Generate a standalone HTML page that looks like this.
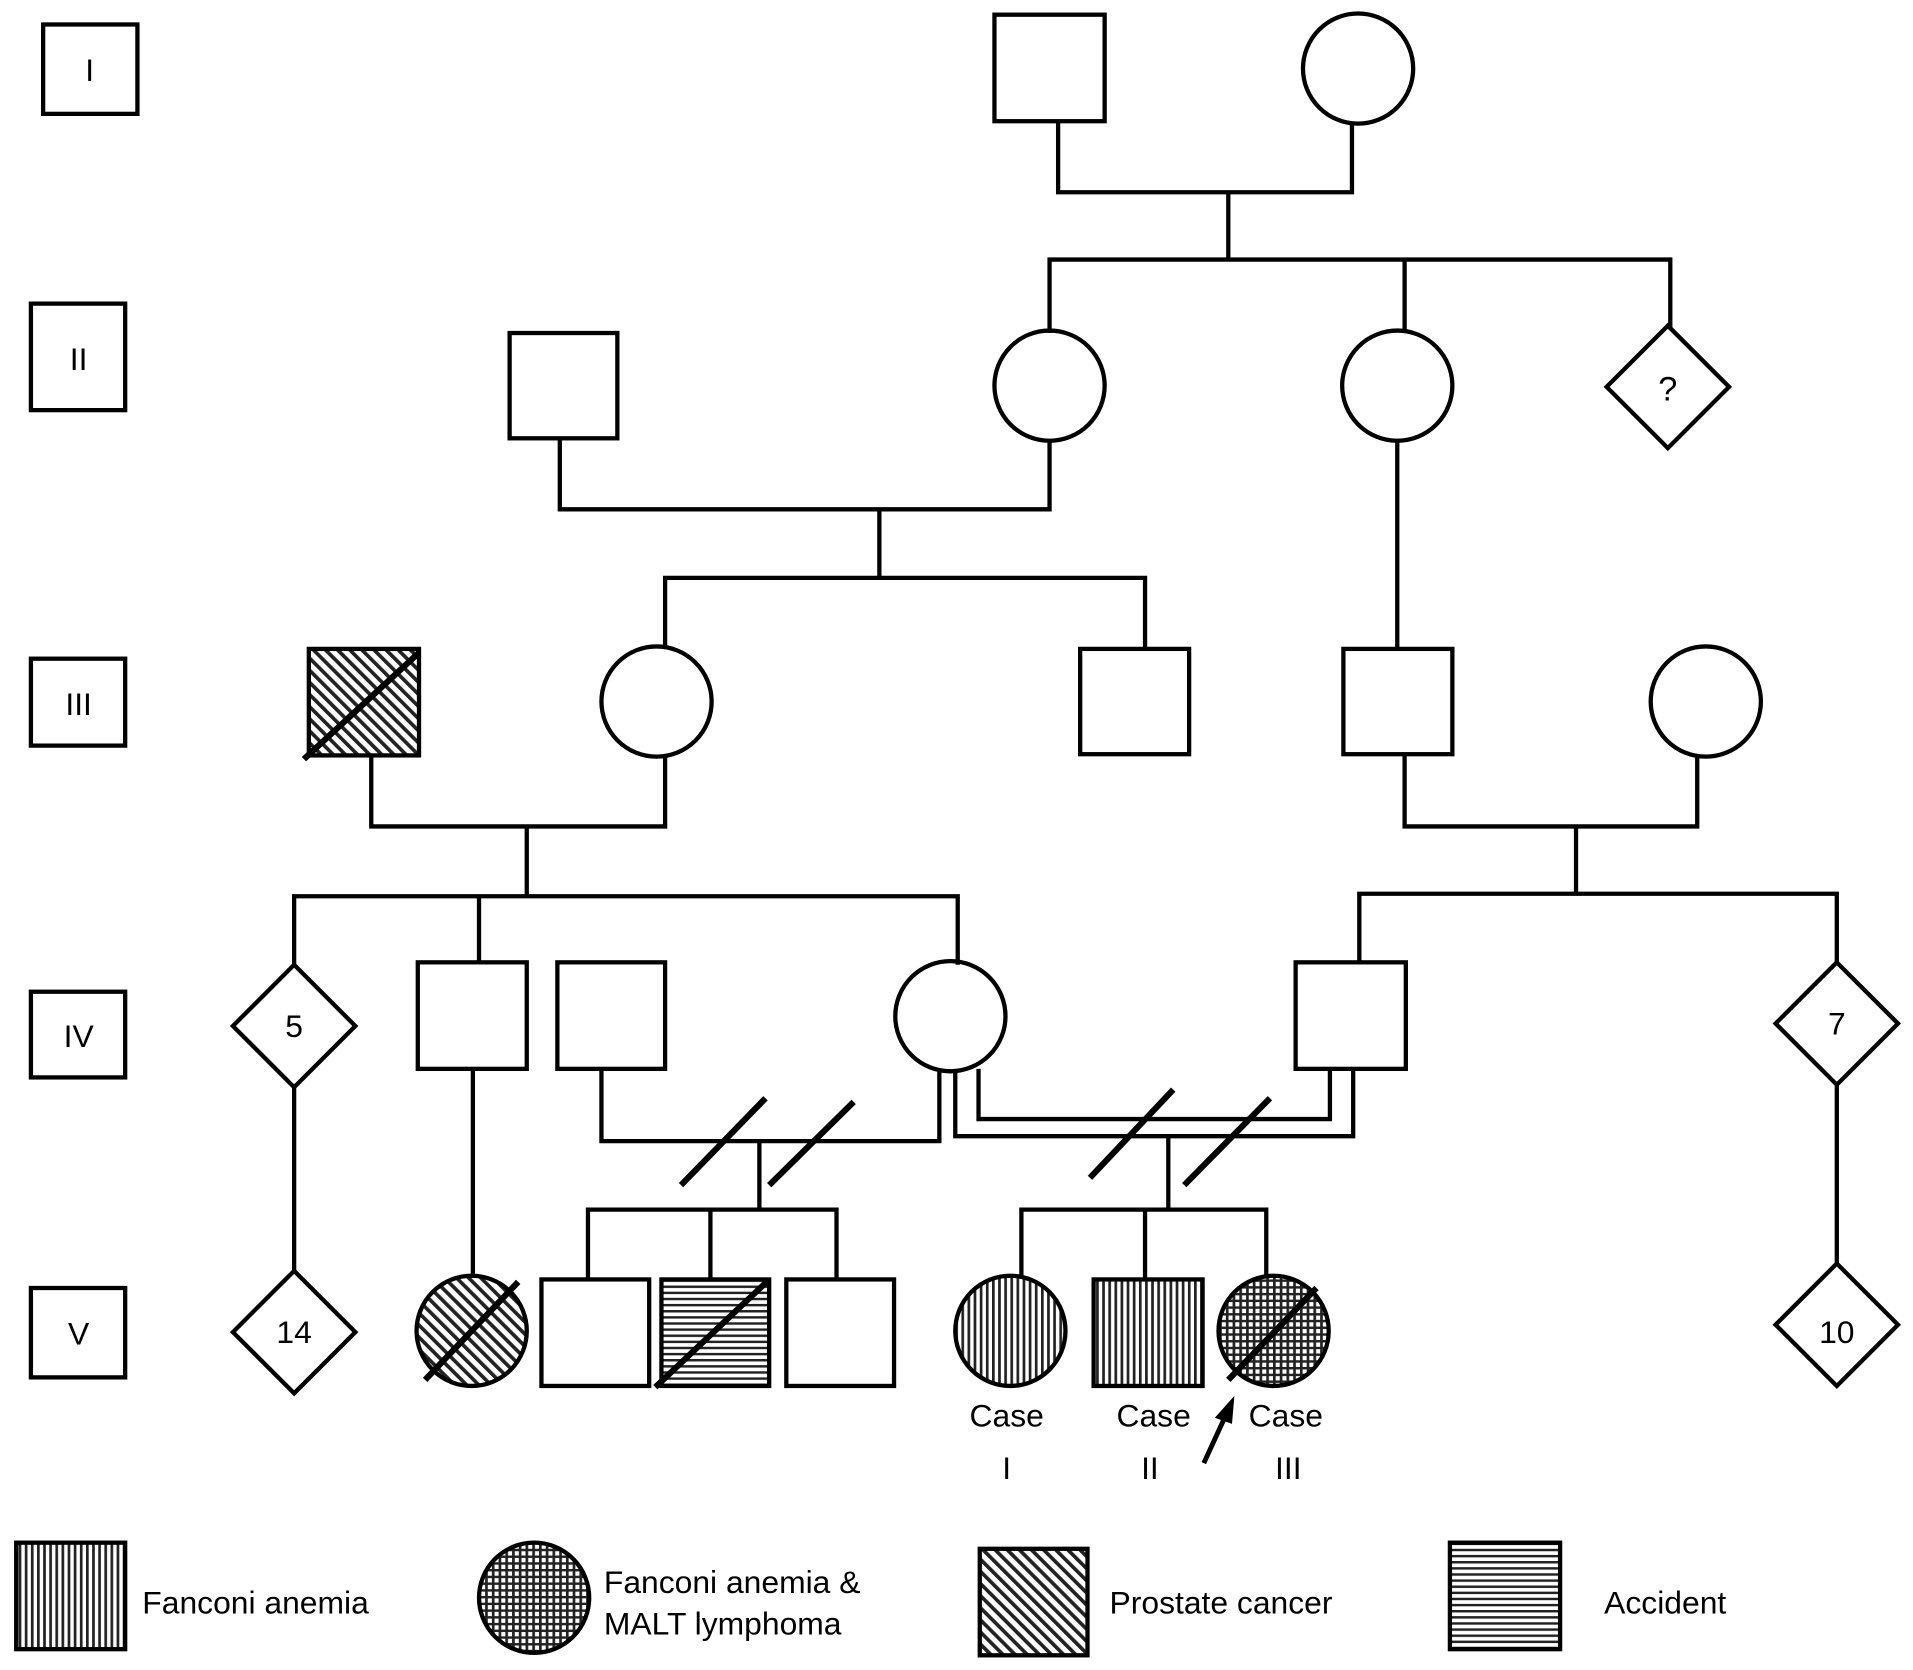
<!DOCTYPE html>
<html><head><meta charset="utf-8"><style>html,body{margin:0;padding:0;background:#fff}svg{display:block}</style></head>
<body>
<svg width="1913" height="1670" viewBox="0 0 1562 1364" xmlns="http://www.w3.org/2000/svg" font-family="Liberation Sans, sans-serif">
<defs>
<pattern id="v" width="5" height="5" patternUnits="userSpaceOnUse"><rect width="5" height="5" fill="#fff"/><rect width="2.2" height="5" fill="#222"/></pattern>
<pattern id="h" width="5" height="5" patternUnits="userSpaceOnUse"><rect width="5" height="5" fill="#fff"/><rect width="5" height="2" fill="#222"/></pattern>
<pattern id="g" width="5.5" height="5.5" patternUnits="userSpaceOnUse"><rect width="5.5" height="5.5" fill="#fff"/><rect width="2.2" height="5.5" fill="#222"/><rect width="5.5" height="2" fill="#222"/></pattern>
<pattern id="d" width="7" height="7" patternUnits="userSpaceOnUse" patternTransform="rotate(-45)"><rect width="7" height="7" fill="#fff"/><rect width="3" height="7" fill="#222"/></pattern>
</defs>
<g fill="none" stroke="#000" stroke-width="3.5">
<rect x="35" y="20" width="77" height="73"/>
<rect x="25" y="248" width="77" height="87"/>
<rect x="25" y="538" width="77" height="71"/>
<rect x="25" y="810" width="77" height="70"/>
<rect x="25" y="1052" width="77" height="73"/>
<rect x="812" y="12" width="90" height="87"/>
<circle cx="1109" cy="56" r="45"/>
<path d="M864 99V157H1104V101M1003 157V212M857 272V212H1364V268M1147 212V272"/>
<rect x="416" y="272" width="88" height="86"/>
<circle cx="857" cy="315" r="45"/>
<circle cx="1141" cy="315" r="45"/>
<path d="M1362 266L1412 316L1362 366L1312 316Z"/>
<path d="M457 358V416H857V360M718 416V472M543 530V472H935V530M1141 360V530"/>
<rect x="252" y="530" width="90" height="87" fill="url(#d)"/>
<circle cx="536" cy="573" r="45"/>
<rect x="882" y="530" width="89" height="86"/>
<rect x="1097" y="530" width="89" height="86"/>
<circle cx="1393" cy="573" r="45"/>
<path d="M303 617V675H543V618M430 675V732M240 790V732H782V788M391 732V786"/>
<path d="M1147 616V675H1386V618M1287 675V730M1110 786V730H1500V788"/>
<path d="M240 788L290 838L240 888L190 838Z"/>
<rect x="341" y="786" width="89" height="87"/>
<rect x="455" y="786" width="88" height="87"/>
<circle cx="776" cy="830" r="45"/>
<rect x="1058" y="786" width="90" height="87"/>
<path d="M1500 786L1550 836L1500 886L1450 836Z"/>
<path d="M240 888V1038M386 873V1042M1500 886V1032"/>
<path d="M491 873V932H767V873"/>
<path d="M780 873V928H1105V873M799 873V914H1086V873"/>
<path d="M620 932V988M480 1045V988H683V1045M580 988V1045M954 928V988M834 1045V988H1034V1045M935 988V1045"/>
</g>
<g stroke="#000" stroke-width="5">
<line x1="556" y1="968" x2="625" y2="897"/><line x1="628" y1="968" x2="697" y2="900"/>
<line x1="890" y1="962" x2="958" y2="890"/><line x1="967" y1="968" x2="1037" y2="897"/>
<line x1="248" y1="620" x2="342" y2="533"/>
</g>
<g stroke="#000" stroke-width="3.5">
<path d="M240 1038L290 1088L240 1138L190 1088Z" fill="#fff"/>
<circle cx="385" cy="1087" r="45" fill="url(#d)"/>
<rect x="442" y="1045" width="88" height="87" fill="#fff"/>
<rect x="540" y="1045" width="88" height="87" fill="url(#h)"/>
<rect x="642" y="1045" width="88" height="87" fill="#fff"/>
<circle cx="825" cy="1087" r="45" fill="url(#v)"/>
<rect x="893" y="1045" width="89" height="87" fill="url(#v)"/>
<circle cx="1040" cy="1087" r="45" fill="url(#g)"/>
<path d="M1500 1032L1550 1082L1500 1132L1450 1082Z" fill="#fff"/>
</g>
<g stroke="#000" stroke-width="5">
<line x1="347" y1="1127" x2="423" y2="1047"/>
<line x1="535" y1="1133" x2="628" y2="1045"/>
<line x1="1003" y1="1127" x2="1075" y2="1052"/>
<line x1="983" y1="1195" x2="1000" y2="1158" stroke-width="4"/>
</g>
<path d="M1008 1140L992 1158L1006 1163Z" fill="#000"/>
<g stroke="#000" stroke-width="3.5">
<rect x="13" y="1260" width="89" height="87" fill="url(#v)"/>
<circle cx="436" cy="1305" r="45" fill="url(#g)"/>
<rect x="800" y="1265" width="88" height="87" fill="url(#d)"/>
<rect x="1184" y="1260" width="90" height="87" fill="url(#h)"/>
</g>
<g font-size="26" fill="#000">
<text x="73" y="66" text-anchor="middle">I</text>
<text x="64" y="302" text-anchor="middle">II</text>
<text x="64" y="584" text-anchor="middle">III</text>
<text x="64" y="855" text-anchor="middle">IV</text>
<text x="64" y="1098" text-anchor="middle">V</text>
<text x="1362" y="327" text-anchor="middle" font-size="28">?</text>
<text x="240" y="847" text-anchor="middle">5</text>
<text x="1500" y="845" text-anchor="middle">7</text>
<text x="240" y="1097" text-anchor="middle">14</text>
<text x="1500" y="1097" text-anchor="middle">10</text>
<text x="822" y="1165" text-anchor="middle">Case</text>
<text x="942" y="1165" text-anchor="middle">Case</text>
<text x="1050" y="1165" text-anchor="middle">Case</text>
<text x="822" y="1208" text-anchor="middle">I</text>
<text x="939" y="1208" text-anchor="middle">II</text>
<text x="1052" y="1208" text-anchor="middle">III</text>
<text x="116" y="1318">Fanconi anemia</text>
<text x="493" y="1301">Fanconi anemia &amp;</text>
<text x="493" y="1335">MALT lymphoma</text>
<text x="906" y="1318">Prostate cancer</text>
<text x="1310" y="1318">Accident</text>
</g>
</svg>
</body></html>
